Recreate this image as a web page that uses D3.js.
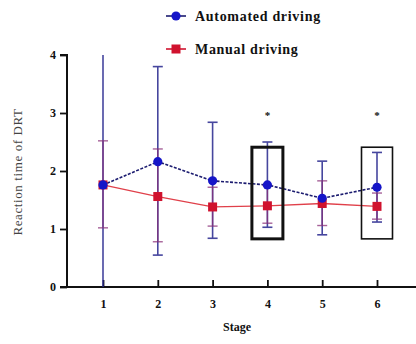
<!DOCTYPE html>
<html>
<head>
<meta charset="utf-8">
<script src="https://cdn.jsdelivr.net/npm/d3@7/dist/d3.min.js"></script>
<style>
  html, body { margin: 0; padding: 0; background: #fff; }
  svg { display: block; }
  svg text { font-family: "Liberation Serif", "DejaVu Serif", "Times New Roman", Times, serif !important; fill: #111; }
</style>
</head>
<body>
<svg id="chart" width="416" height="344"></svg>
<script>
// Reaction time of DRT per stage, mean with error range
const stages = [1, 2, 3, 4, 5, 6];
const yTicks = [0, 1, 2, 3, 4];

const autoMean = [1.76, 2.16, 1.83, 1.76, 1.53, 1.72];
const autoHigh = [4.3, 3.80, 2.84, 2.50, 2.17, 2.32];
const autoLow  = [-0.4, 0.55, 0.84, 1.03, 0.90, 1.12];

const manualMean = [1.76, 1.56, 1.38, 1.40, 1.44, 1.39];
const manualHigh = [2.52, 2.38, 1.72, 1.75, 1.83, 1.62];
const manualLow  = [1.02, 0.78, 1.05, 1.10, 1.06, 1.17];

// significant stages, with the highlight frame range
const sigStages = [4, 6];
const sigMarkValue = 3.0;
const frameRange = [0.83, 2.41];

const seriesNames = ["Automated driving", "Manual driving"];

const serif = "'Liberation Serif', 'DejaVu Serif', serif";
const svg = d3.select("#chart");

const x = d3.scaleLinear().domain([1, 6]).range([103, 377]);
const y = d3.scaleLinear().domain([0, 4]).range([287, 55]);

const axisX0 = 67;

// clip region for the plotting area
svg.append("defs").append("clipPath").attr("id", "plotClip")
  .append("rect").attr("x", axisX0).attr("y", y(4)).attr("width", 416 - axisX0).attr("height", y(0) - y(4));

// y axis
const yAxis = d3.axisLeft(y).tickValues(yTicks).tickFormat(d3.format("d")).tickSize(7).tickPadding(4);
const gy = svg.append("g").attr("transform", `translate(${axisX0},0)`).call(yAxis);
gy.attr("font-family", serif);
gy.select(".domain").attr("stroke", "#111").attr("stroke-width", 2).attr("d", `M-7,${y(4)}H0V${y(0)}`);
gy.selectAll(".tick line").attr("stroke", "#111").attr("stroke-width", 1.8);
gy.selectAll(".tick text").attr("font-size", 12).attr("font-weight", "bold").attr("fill", "#111");

// x axis, ticks pointing inward
const xAxis = d3.axisBottom(x).tickValues(stages).tickFormat(d3.format("d")).tickSize(-7).tickPadding(12);
const gx = svg.append("g").attr("transform", `translate(0,${y(0)})`).call(xAxis);
gx.attr("font-family", serif);
gx.select(".domain").attr("stroke", "#111").attr("stroke-width", 2).attr("d", `M${axisX0 - 7},0H416`);
gx.selectAll(".tick line").attr("stroke", "#111").attr("stroke-width", 1.8);
gx.selectAll(".tick text").attr("font-size", 12).attr("font-weight", "bold").attr("fill", "#111");

// axis titles
svg.append("text").attr("x", 237).attr("y", 331).attr("text-anchor", "middle")
  .attr("font-family", serif).attr("font-size", 12).attr("font-weight", "bold").text("Stage");
svg.append("text").attr("transform", "translate(22,172) rotate(-90)").attr("text-anchor", "middle")
  .attr("font-family", serif).attr("font-size", 13).attr("letter-spacing", 0.6)
  .style("fill", "#444").text("Reaction time of DRT");

const plot = svg.append("g").attr("clip-path", "url(#plotClip)");

const autoColor = "#1515c8";
const autoLine = "#1c1c70";
const autoErr = "#26268e";
const manualColor = "#d0122e";
const manualErr = "#8a2f78";

// error bars helper
function errorBars(g, lo, hi, color, width, capW, opacity) {
  const grp = g.append("g").attr("stroke", color).attr("stroke-width", width).attr("opacity", opacity);
  stages.forEach((s, i) => {
    grp.append("line").attr("x1", x(s)).attr("x2", x(s)).attr("y1", y(hi[i])).attr("y2", y(lo[i]));
    [hi[i], lo[i]].forEach(v => {
      grp.append("line").attr("x1", x(s) - capW).attr("x2", x(s) + capW).attr("y1", y(v)).attr("y2", y(v));
    });
  });
}

errorBars(plot, autoLow, autoHigh, autoErr, 1.6, 5, 0.85);
errorBars(plot, manualLow, manualHigh, manualErr, 1.4, 5, 0.75);

// connecting lines
const line = d3.line().x((d, i) => x(stages[i])).y(d => y(d));
plot.append("path").datum(manualMean).attr("d", line).attr("fill", "none")
  .attr("stroke", "#e0404a").attr("stroke-width", 1.3);
plot.append("path").datum(autoMean).attr("d", line).attr("fill", "none")
  .attr("stroke", autoLine).attr("stroke-width", 1.6).attr("stroke-dasharray", "3,1.5");

// markers
plot.selectAll(".msq").data(manualMean).enter().append("rect")
  .attr("x", (d, i) => x(stages[i]) - 4.5).attr("y", d => y(d) - 4.5)
  .attr("width", 9).attr("height", 9).attr("fill", manualColor);
plot.selectAll(".acirc").data(autoMean).enter().append("circle")
  .attr("cx", (d, i) => x(stages[i])).attr("cy", d => y(d)).attr("r", 4.6).attr("fill", autoColor);

// highlight frames and significance marks
sigStages.forEach((s, k) => {
  svg.append("rect").attr("x", x(s) - 15.5).attr("y", y(frameRange[1]))
    .attr("width", 31).attr("height", y(frameRange[0]) - y(frameRange[1]))
    .attr("fill", "none").attr("stroke", "#111").attr("stroke-width", k === 0 ? 3 : 1.6);
  svg.append("text").attr("x", x(s)).attr("y", y(sigMarkValue) + 6).attr("text-anchor", "middle")
    .attr("font-family", serif).attr("font-size", 11).attr("font-weight", "bold").text("*");
});

// legend
const legend = svg.append("g").attr("font-family", serif);
const lg0 = legend.append("g").attr("transform", "translate(176,16)");
lg0.append("line").attr("x1", -10).attr("x2", 10).attr("stroke", autoLine).attr("stroke-width", 1.6);
lg0.append("circle").attr("r", 4.6).attr("fill", autoColor);
lg0.append("text").attr("x", 19).attr("y", 5).attr("font-size", 14).attr("font-weight", "bold")
  .attr("letter-spacing", 0.7).text(seriesNames[0]);
const lg1 = legend.append("g").attr("transform", "translate(176,49)");
lg1.append("line").attr("x1", -10).attr("x2", 10).attr("stroke", manualColor).attr("stroke-width", 1.6);
lg1.append("rect").attr("x", -4.5).attr("y", -4.5).attr("width", 9).attr("height", 9).attr("fill", manualColor);
lg1.append("text").attr("x", 19).attr("y", 5).attr("font-size", 14).attr("font-weight", "bold")
  .attr("letter-spacing", 0.7).text(seriesNames[1]);
</script>
</body>
</html>
